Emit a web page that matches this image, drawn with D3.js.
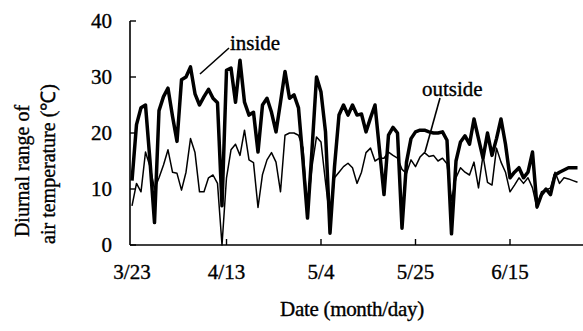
<!DOCTYPE html>
<html><head><meta charset="utf-8">
<script src="https://cdn.jsdelivr.net/npm/d3@7"></script>
<style>
html,body{margin:0;padding:0;background:#fff;}
svg text{font-family:"Liberation Serif","Times New Roman",serif;fill:#000;stroke:#000;stroke-width:0.35px;}
</style></head>
<body>
<svg id="c" width="583" height="331"></svg>
<script>
// day index 0 = 3/23
const tickDays = [0, 21, 42, 63, 84];
const tickLabels = ["3/23", "4/13", "5/4", "5/25", "6/15"];
const yTicks = [0, 10, 20, 30, 40];
const inside = [11.5,21.5,24.5,25,15,4,24,26.5,28,23,18.5,29.5,30,31.8,27,25,26.5,27.8,26.2,25.4,
  7,31.2,31.6,25.5,33,25.5,23.2,23.7,16.6,25,26.2,23.7,20.2,25.5,31,26.2,26.8,24.5,15,4.8,
  17,30,27.3,20.2,2.1,14,23.2,25,23.2,25,23.2,23.4,20.2,22.7,25,17,9,19.6,21,20,
  3,14.8,19,20.2,20.5,20.5,20.2,20,20,20.2,18.7,2,15,18.4,19.5,18,22.5,19,15.5,20,
  16,19,22.5,18,12,13,13.8,12,13,16.6,6.8,9,10,9,12.5,13,13.4,13.8,13.8,13.8];
const outside = [7,11,9.5,16.6,14,10,12,14.3,17,13,12.8,9.8,13,19,16.5,9.5,9.5,12,12.5,11,
  0,12,17,18,16,20.5,15.2,14.7,6.7,12.6,15.2,16.5,14.8,9.5,19.6,20,20,19.6,17.3,6,
  14,19.3,18.4,11.2,4.5,12,13,14,14.6,13.8,11,13,16.5,17.3,15,15.5,15.5,16.6,16,15.5,
  13.5,12.8,15.2,14,15.7,16.5,15.8,16,15,15.5,14.5,8,12,13.8,13,12.5,14.8,10.2,16,11.2,
  10.7,17.3,14.8,13,9.5,10.7,12,11,12,10.2,6.6,9.5,9.8,10.2,13,11,12,11.8,11.5,11.2];

const svg = d3.select("#c");
const x = d3.scaleLinear().domain([0, 99]).range([132, 577.5]);
const y = d3.scaleLinear().domain([0, 40]).range([245, 21]);

const gy = svg.append("g").attr("transform", "translate(130,0)");
gy.append("line").attr("x1",0).attr("x2",0).attr("y1",y(40)).attr("y2",y(0)).attr("stroke","#000").attr("stroke-width",1.6);
gy.selectAll(".yt").data(yTicks).enter().append("line")
  .attr("x1",0).attr("x2",6).attr("y1",d=>y(d)).attr("y2",d=>y(d)).attr("stroke","#000").attr("stroke-width",1.4);
gy.selectAll(".yl").data(yTicks).enter().append("text")
  .attr("x",-18).attr("y",d=>y(d)).attr("dy","0.35em").attr("text-anchor","end")
  .attr("font-size",21).text(d=>d);

const gx = svg.append("g");
gx.append("line").attr("x1",130).attr("x2",583).attr("y1",245).attr("y2",245).attr("stroke","#000").attr("stroke-width",1.6);
gx.selectAll(".xt").data(tickDays.slice(1)).enter().append("line")
  .attr("x1",d=>x(d)).attr("x2",d=>x(d)).attr("y1",245).attr("y2",239).attr("stroke","#000").attr("stroke-width",1.4);
gx.selectAll(".xl").data(tickDays).enter().append("text")
  .attr("x",d=>x(d)).attr("y",279).attr("text-anchor","middle").attr("font-size",21)
  .text((d,i)=>tickLabels[i]);

svg.append("text").attr("x",352).attr("y",316).attr("text-anchor","middle").attr("font-size",21)
  .attr("letter-spacing","-0.3").text("Date (month/day)");

svg.append("text").attr("transform","translate(29,171) rotate(-90)").attr("text-anchor","middle")
  .attr("font-size",20).text("Diurnal range of");
svg.append("text").attr("transform","translate(55,164) rotate(-90)").attr("text-anchor","middle")
  .attr("font-size",20).text("air temperature  (\u2103)");

const line = d3.line().x((d,i)=>x(i)).y(d=>y(d));
svg.append("path").datum(outside).attr("d",line).attr("fill","none").attr("stroke","#000").attr("stroke-width",1.5).attr("stroke-linejoin","round");
svg.append("path").datum(inside).attr("d",line).attr("fill","none").attr("stroke","#000").attr("stroke-width",3.5).attr("stroke-linejoin","round");

svg.append("line").attr("x1",229).attr("y1",48).attr("x2",200).attr("y2",74).attr("stroke","#000").attr("stroke-width",1.6);
svg.append("text").attr("x",230).attr("y",50).attr("font-size",21).text("inside");
svg.append("line").attr("x1",440).attr("y1",98).attr("x2",425).attr("y2",152).attr("stroke","#000").attr("stroke-width",1.6);
svg.append("text").attr("x",422).attr("y",96).attr("font-size",21).text("outside");
</script>
</body></html>
